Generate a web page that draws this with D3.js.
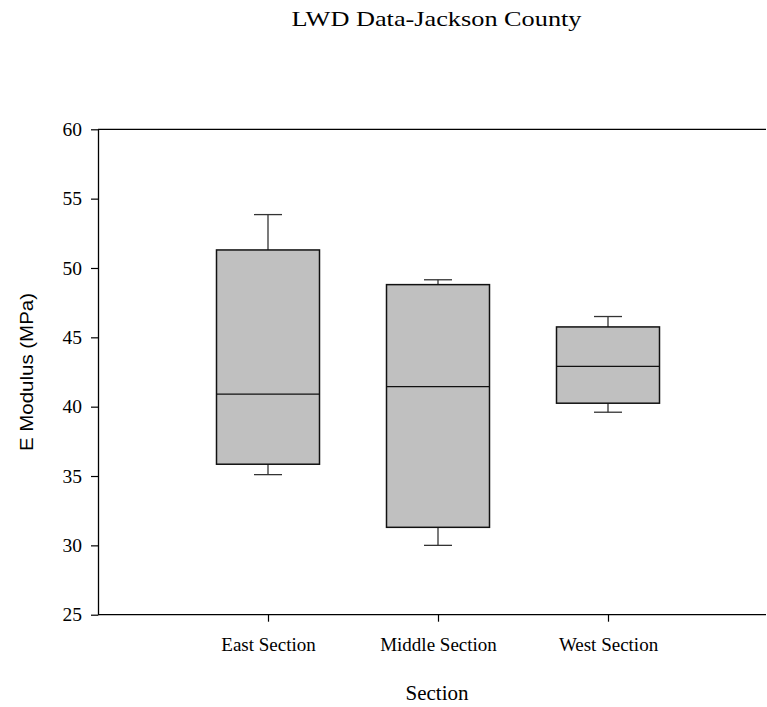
<!DOCTYPE html>
<html>
<head>
<meta charset="utf-8">
<script src="https://cdn.jsdelivr.net/npm/d3@7/dist/d3.min.js"></script>
<style>
  html, body { margin: 0; padding: 0; background: #fff; }
  svg { display: block; }
</style>
</head>
<body>
<svg id="chart" width="767" height="707"></svg>
<script>
// Box-plot summary per section (E modulus, MPa)
const categories = ["East Section", "Middle Section", "West Section"];
const whiskerLow  = [35.1, 30.0, 39.6];
const q1          = [35.85, 31.3, 40.25];
const median      = [40.9, 41.45, 42.9];
const q3          = [51.3, 48.8, 45.75];
const whiskerHigh = [53.85, 49.15, 46.5];
const yTicks = [25, 30, 35, 40, 45, 50, 55, 60];

const svg = d3.select("#chart");
const plot = { left: 98, right: 766, top: 129.3, bottom: 614.7 };

const y = d3.scaleLinear().domain([25, 60]).range([plot.bottom, plot.top]);
const x = d3.scalePoint().domain(categories).range([268, 608]);

const boxW = 103, capW = 28;
const serif = "'Liberation Serif', 'Times New Roman', serif";

// title
svg.append("text")
  .attr("x", 436.5).attr("y", 26)
  .attr("text-anchor", "middle")
  .attr("textLength", 290).attr("lengthAdjust", "spacingAndGlyphs")
  .style("font-family", serif).style("font-size", "22px")
  .text("LWD Data-Jackson County");

// top frame line
svg.append("line").attr("x1", plot.left).attr("x2", plot.right)
  .attr("y1", plot.top).attr("y2", plot.top)
  .attr("stroke", "#000").attr("stroke-width", 1.3);

// y axis
const yAxis = svg.append("g")
  .attr("transform", `translate(${plot.left},0)`)
  .call(d3.axisLeft(y).tickValues(yTicks).tickSize(7).tickPadding(9)
    .tickSizeOuter(0).tickFormat(d3.format("d")));
yAxis.select(".domain").attr("stroke", "#000").attr("stroke-width", 1.3);
yAxis.selectAll(".tick line").attr("stroke", "#000").attr("stroke-width", 1.2);
yAxis.selectAll(".tick text")
  .style("font-family", serif).style("font-size", "19.5px").attr("fill", "#000");

// x axis
const xAxis = svg.append("g")
  .attr("transform", `translate(0,${plot.bottom})`)
  .call(d3.axisBottom(x).tickSize(7).tickPadding(16).tickSizeOuter(0));
xAxis.select(".domain").attr("d", `M${plot.left},0H${plot.right}`)
  .attr("stroke", "#000").attr("stroke-width", 1.3);
xAxis.selectAll(".tick line").attr("stroke", "#000").attr("stroke-width", 1.2);
xAxis.selectAll(".tick text")
  .style("font-family", serif).style("font-size", "19px").attr("fill", "#000");

// axis titles
svg.append("text")
  .attr("x", 437).attr("y", 700)
  .attr("text-anchor", "middle")
  .style("font-family", serif).style("font-size", "21px")
  .text("Section");

svg.append("text")
  .attr("transform", `translate(33,372) rotate(-90)`)
  .attr("text-anchor", "middle")
  .attr("textLength", 158).attr("lengthAdjust", "spacingAndGlyphs")
  .style("font-family", "'Liberation Sans', Arial, sans-serif").style("font-size", "19px")
  .text("E Modulus (MPa)");

// boxes
const data = categories.map((c, i) => ({
  c, lo: whiskerLow[i], q1: q1[i], med: median[i], q3: q3[i], hi: whiskerHigh[i]
}));

const g = svg.append("g").selectAll("g").data(data).join("g");

// whiskers
g.append("line")
  .attr("x1", d => x(d.c)).attr("x2", d => x(d.c))
  .attr("y1", d => y(d.hi)).attr("y2", d => y(d.q3))
  .attr("stroke", "#222").attr("stroke-width", 1.2);
g.append("line")
  .attr("x1", d => x(d.c)).attr("x2", d => x(d.c))
  .attr("y1", d => y(d.q1)).attr("y2", d => y(d.lo))
  .attr("stroke", "#222").attr("stroke-width", 1.2);
g.append("line")
  .attr("x1", d => x(d.c) - capW / 2).attr("x2", d => x(d.c) + capW / 2)
  .attr("y1", d => y(d.hi)).attr("y2", d => y(d.hi))
  .attr("stroke", "#333").attr("stroke-width", 1.3);
g.append("line")
  .attr("x1", d => x(d.c) - capW / 2).attr("x2", d => x(d.c) + capW / 2)
  .attr("y1", d => y(d.lo)).attr("y2", d => y(d.lo))
  .attr("stroke", "#333").attr("stroke-width", 1.3);

g.append("rect")
  .attr("x", d => x(d.c) - boxW / 2).attr("width", boxW)
  .attr("y", d => y(d.q3)).attr("height", d => y(d.q1) - y(d.q3))
  .attr("fill", "#c0c0c0").attr("stroke", "#111").attr("stroke-width", 1.5);

g.append("line")
  .attr("x1", d => x(d.c) - boxW / 2).attr("x2", d => x(d.c) + boxW / 2)
  .attr("y1", d => y(d.med)).attr("y2", d => y(d.med))
  .attr("stroke", "#111").attr("stroke-width", 1.3);
</script>
</body>
</html>
